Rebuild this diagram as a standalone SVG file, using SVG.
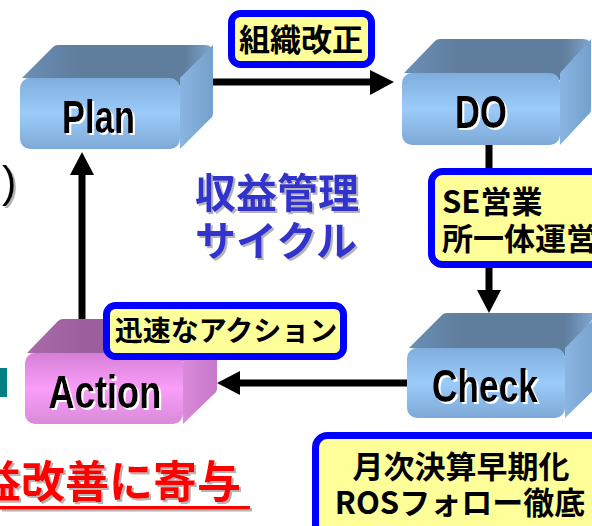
<svg xmlns="http://www.w3.org/2000/svg" width="592" height="526" viewBox="0 0 592 526">
<defs>
  <linearGradient id="bFront" x1="0" y1="0" x2="0" y2="1">
    <stop offset="0" stop-color="#80aedc"/>
    <stop offset="0.5" stop-color="#9bcbfa"/>
    <stop offset="1" stop-color="#7ea9d6"/>
  </linearGradient>
  <linearGradient id="bTop" x1="0" y1="0" x2="1" y2="0">
    <stop offset="0" stop-color="#6a8fb6"/>
    <stop offset="0.3" stop-color="#5f7d9c"/>
    <stop offset="0.85" stop-color="#5f7d9c"/>
    <stop offset="1" stop-color="#7fa6cf"/>
  </linearGradient>
  <linearGradient id="bSide" x1="0" y1="0" x2="1" y2="0">
    <stop offset="0" stop-color="#8ab5e2"/>
    <stop offset="1" stop-color="#74a0cc"/>
  </linearGradient>
  <linearGradient id="pFront" x1="0" y1="0" x2="0" y2="1">
    <stop offset="0" stop-color="#d67fd6"/>
    <stop offset="0.5" stop-color="#fa9ef9"/>
    <stop offset="1" stop-color="#d98ad9"/>
  </linearGradient>
  <linearGradient id="pTop" x1="0" y1="0" x2="1" y2="0">
    <stop offset="0" stop-color="#a86aa8"/>
    <stop offset="0.3" stop-color="#9c5e9c"/>
    <stop offset="1" stop-color="#9c5e9c"/>
  </linearGradient>
  <linearGradient id="pSide" x1="0" y1="0" x2="1" y2="0">
    <stop offset="0" stop-color="#d98ad9"/>
    <stop offset="1" stop-color="#c878c8"/>
  </linearGradient>
  <filter id="grayShadow" x="-10%" y="-10%" width="130%" height="130%">
    <feOffset in="SourceAlpha" dx="2" dy="2" result="o"/>
    <feFlood flood-color="#b4b4b4"/>
    <feComposite in2="o" operator="in" result="s"/>
    <feMerge><feMergeNode in="s"/><feMergeNode in="SourceGraphic"/></feMerge>
  </filter>
  <filter id="whiteShadow" x="-10%" y="-10%" width="130%" height="130%">
    <feOffset in="SourceAlpha" dx="1.5" dy="1.5" result="o"/>
    <feFlood flood-color="#ffffff"/>
    <feComposite in2="o" operator="in" result="s"/>
    <feMerge><feMergeNode in="s"/><feMergeNode in="SourceGraphic"/></feMerge>
  </filter>
</defs>
<style>
  .ln { stroke:#000; stroke-width:7; fill:none; }
  .hd { fill:#000; }
  .lbl { fill:#ffff99; stroke:#0000ff; stroke-width:7; }
  .jp { font-family:"Noto Sans CJK JP","Noto Sans CJK SC",sans-serif; font-weight:bold; }
  .lt { font-size:31px; fill:#000; }
  .bt { font-family:"Liberation Sans","DejaVu Sans",sans-serif; font-size:46px; font-weight:bold; text-anchor:middle; fill:#000; filter:url(#whiteShadow); }
  .cyc { font-size:41px; fill:#3333cc; filter:url(#grayShadow); }
</style>

<!-- partial elements at left edge -->
<g id="edge-left">
  <text x="2" y="197" font-family="Liberation Sans, sans-serif" font-size="44" fill="#000" filter="url(#grayShadow)">)</text>
  <rect x="0" y="368" width="7" height="29" fill="#008080"/>
</g>

<!-- connectors -->
<g id="connectors">
  <line class="ln" x1="212" y1="82" x2="372" y2="82"/>
  <polygon class="hd" points="370,70 394,82 370,95"/>
  <line class="ln" x1="489" y1="145" x2="489" y2="292"/>
  <polygon class="hd" points="477,290 501,290 489,313"/>
  <line class="ln" x1="407" y1="383" x2="238" y2="383"/>
  <polygon class="hd" points="240,371 217,383 240,395"/>
  <line class="ln" x1="82" y1="321" x2="82" y2="173"/>
  <polygon class="hd" points="70,175 94,175 82,152"/>
</g>

<!-- Plan -->
<g id="plan">
  <path d="M22,78 L53,47 Q55,45 58,45 L205,45 Q213,45 213,53 L180,86 Z" fill="url(#bTop)"/>
  <path d="M180,78 L213,45 L213,113 Q213,117 210,119 L180,149 Z" fill="url(#bSide)"/>
  <rect x="20" y="78" width="160" height="71" rx="10" fill="url(#bFront)"/>
  <text class="bt" x="98.5" y="133" textLength="73" lengthAdjust="spacingAndGlyphs">Plan</text>
</g>

<!-- DO -->
<g id="do">
  <path d="M404,73 L435,41 Q437,39 440,39 L583,39 Q591,39 591,47 L560,80 Z" fill="url(#bTop)"/>
  <path d="M560,73 L591,39 L591,109 Q591,113 588,115 L560,145 Z" fill="url(#bSide)"/>
  <rect x="402" y="73" width="158" height="72" rx="10" fill="url(#bFront)"/>
  <text class="bt" x="481" y="128" textLength="52" lengthAdjust="spacingAndGlyphs">DO</text>
</g>

<!-- Check -->
<g id="check">
  <path d="M409,348 L442,315 Q444,313 447,313 L592,313 L592,320 L565,356 Z" fill="url(#bTop)"/>
  <path d="M565,348 L600,313 L600,384 L565,418 Z" fill="url(#bSide)"/>
  <rect x="407" y="348" width="158" height="70" rx="10" fill="url(#bFront)"/>
  <text class="bt" x="485" y="402" textLength="106" lengthAdjust="spacingAndGlyphs">Check</text>
</g>

<!-- Action -->
<g id="action">
  <path d="M27,353 L58,321 Q60,319 63,319 L209,319 Q217,319 217,327 L183,361 Z" fill="url(#pTop)"/>
  <path d="M183,353 L217,319 L217,388 Q217,392 214,394 L183,424 Z" fill="url(#pSide)"/>
  <rect x="25" y="353" width="158" height="71" rx="10" fill="url(#pFront)"/>
  <text class="bt" x="105" y="408" textLength="113" lengthAdjust="spacingAndGlyphs">Action</text>
</g>

<!-- labels -->
<g id="label-soshiki">
  <rect class="lbl" x="231.5" y="13.5" width="140" height="51" rx="9"/>
  <text class="jp lt" x="301" y="51" text-anchor="middle">組織改正</text>
</g>
<g id="label-se">
  <rect class="lbl" x="431.5" y="171.5" width="200" height="93" rx="11"/>
  <text class="jp lt" x="442" y="213">SE営業</text>
  <text class="jp lt" x="442" y="250">所一体運営</text>
</g>
<g id="label-action">
  <rect class="lbl" x="106.5" y="305.5" width="237" height="51" rx="9"/>
  <text class="jp" x="226" y="341" font-size="28" text-anchor="middle">迅速なアクション</text>
</g>
<g id="label-check">
  <rect class="lbl" x="315.5" y="435.5" width="300" height="110" rx="12"/>
  <text class="jp lt" x="461" y="478" text-anchor="middle">月次決算早期化</text>
  <text class="jp lt" x="460" y="514" text-anchor="middle">ROSフォロー徹底</text>
</g>

<!-- center title -->
<g id="title">
  <text class="jp cyc" x="195" y="208">収益管理</text>
  <text class="jp cyc" x="195" y="256">サイクル</text>
</g>

<!-- bottom red text -->
<g id="bottom-text" filter="url(#grayShadow)">
  <text class="jp" x="-23" y="498" font-size="44" fill="#ff0000">益改善に寄与</text>
  <rect x="0" y="506" width="250" height="3.5" fill="#ff0000"/>
</g>
</svg>
